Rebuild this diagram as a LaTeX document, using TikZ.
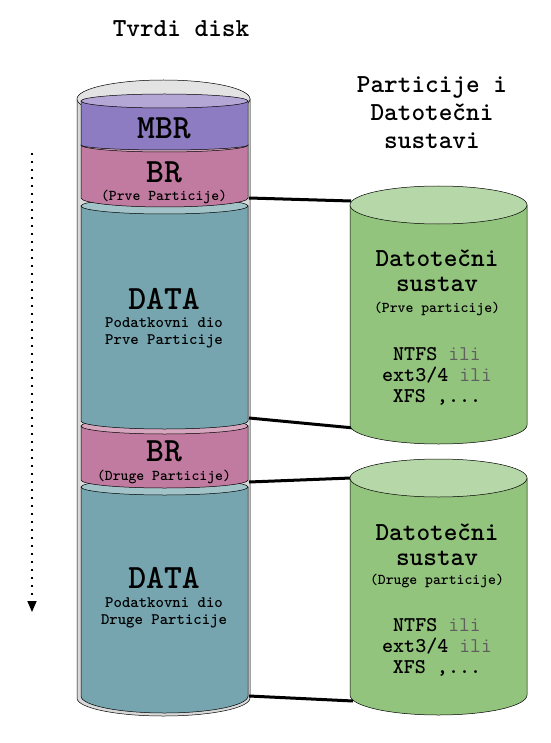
\documentclass[tikz,border=0pt]{standalone}
\usepackage{xcolor}
\usepackage{tikz}
\usetikzlibrary{arrows.meta}

\definecolor{mbrside}{HTML}{8E7CC3}
\definecolor{mbrtop}{HTML}{B4A7D6}
\definecolor{brside}{HTML}{C27BA0}
\definecolor{brtop}{HTML}{D5A6BD}
\definecolor{dataside}{HTML}{76A5AF}
\definecolor{datatop}{HTML}{A2C4C9}
\definecolor{fsside}{HTML}{93C47D}
\definecolor{fstop}{HTML}{B6D7A8}
\definecolor{diskside}{HTML}{D9D9D9}
\definecolor{disktop}{HTML}{E3E3E3}
\definecolor{iligray}{HTML}{5F5F5F}

\newcommand{\fsz}[2]{\fontsize{#1pt}{#2pt}\selectfont}
\newcommand{\ili}{{\mdseries\color{iligray}ili}}
% one slice of a cylinder: left x, right x, top y, bottom y, top ry, bottom ry, side, top
\newcommand{\diskslice}[8]{%
  \filldraw[slice line,fill=#7] (#1,#3) -- (#1,#4)
    arc[start angle=180,end angle=0,x radius={(#2-#1)/2},y radius=#6] -- (#2,#3) -- cycle;
  \filldraw[slice line,fill=#8] ({(#1+#2)/2},#3) ellipse[x radius={(#2-#1)/2},y radius=#5];
}

\begin{document}
\begin{tikzpicture}[x=1pt,y=-1pt,
    slice line/.style={draw=black,line width=0.5pt},
    big label/.style={inner sep=0pt,font=\ttfamily\bfseries\fsz{34}{34}},
    small label/.style={inner sep=0pt,align=center,font=\ttfamily\bfseries\fsz{15}{16}},
    data label/.style={inner sep=0pt,align=center,font=\ttfamily\bfseries\fsz{16}{17.5}},
    head label/.style={inner sep=0pt,align=center,font=\ttfamily\bfseries\fsz{26}{28}},
    fs title/.style={inner sep=0pt,align=center,font=\ttfamily\bfseries\fsz{26}{25}},
    fs list/.style={inner sep=0pt,align=center,font=\ttfamily\bfseries\fsz{21}{21}},
    link/.style={line width=3pt}]

  \useasboundingbox (0,0) rectangle (550,743);

  % hard disk, bottom slice first
  \diskslice{77}{250}{99}{698}{19}{18}{diskside}{disktop}
  \diskslice{81}{248}{487}{696}{8}{17}{dataside}{datatop}
  \diskslice{81}{248}{426}{480}{8}{8}{brside}{brtop}
  \diskslice{81}{248}{206}{421}{8}{8}{dataside}{datatop}
  \diskslice{81}{248}{145}{198}{7}{9}{brside}{brtop}
  \diskslice{81}{248}{101}{145}{7}{5}{mbrside}{mbrtop}

  \coordinate (d1top) at (249,198);
  \coordinate (d1bot) at (249,418);
  \coordinate (d2top) at (249,482);
  \coordinate (d2bot) at (249,696);
  \coordinate (f1top) at (351,201);
  \coordinate (f1bot) at (354,428);
  \coordinate (f2top) at (351,478);
  \coordinate (f2bot) at (353,701);

  \draw[link] (d1top) -- (f1top);
  \draw[link] (d1bot) -- (f1bot);
  \draw[link] (d2top) -- (f2top);
  \draw[link] (d2bot) -- (f2bot);

  % file systems
  \diskslice{350}{527}{205}{425}{19}{19}{fsside}{fstop}
  \diskslice{350}{527}{478}{695}{19}{20}{fsside}{fstop}

  \node[head label] (title) at (181,29) {Tvrdi disk};
  \node[head label] (header) at (432,113) {Particije i\\Datotečni\\sustavi};

  \node[big label] (mbr) at (164,128) {MBR};
  \node[big label] (br1) at (164,172) {BR};
  \node[small label] (br1sub) at (164,197) {(Prve Particije)};
  \node[big label] (data1) at (164,299) {DATA};
  \node[data label] (data1sub) at (164,333) {Podatkovni dio\\Prve Particije};
  \node[big label] (br2) at (164,451) {BR};
  \node[small label] (br2sub) at (164,477) {(Druge Particije)};
  \node[big label] (data2) at (164,578) {DATA};
  \node[data label] (data2sub) at (164,613) {Podatkovni dio\\Druge Particije};

  \node[fs title] (fs1) at (437,271) {Datotečni\\sustav};
  \node[small label] (fs1sub) at (437,309) {(Prve particije)};
  \node[fs list] (fs1list) at (437,376) {NTFS \ili\\ext3/4 \ili\\XFS ,...};
  \node[fs title] (fs2) at (437,545) {Datotečni\\sustav};
  \node[small label] (fs2sub) at (437,581) {(Druge particije)};
  \node[fs list] (fs2list) at (437,647) {NTFS \ili\\ext3/4 \ili\\XFS ,...};

  % reading order
  \coordinate (scanstart) at (32,153);
  \coordinate (scanend) at (32,612);
  \draw[-{Triangle[length=11pt,width=9pt]},line width=1.6pt,dash pattern=on 1.6pt off 6.4pt]
    (scanstart) -- (scanend);
\end{tikzpicture}
\end{document}
